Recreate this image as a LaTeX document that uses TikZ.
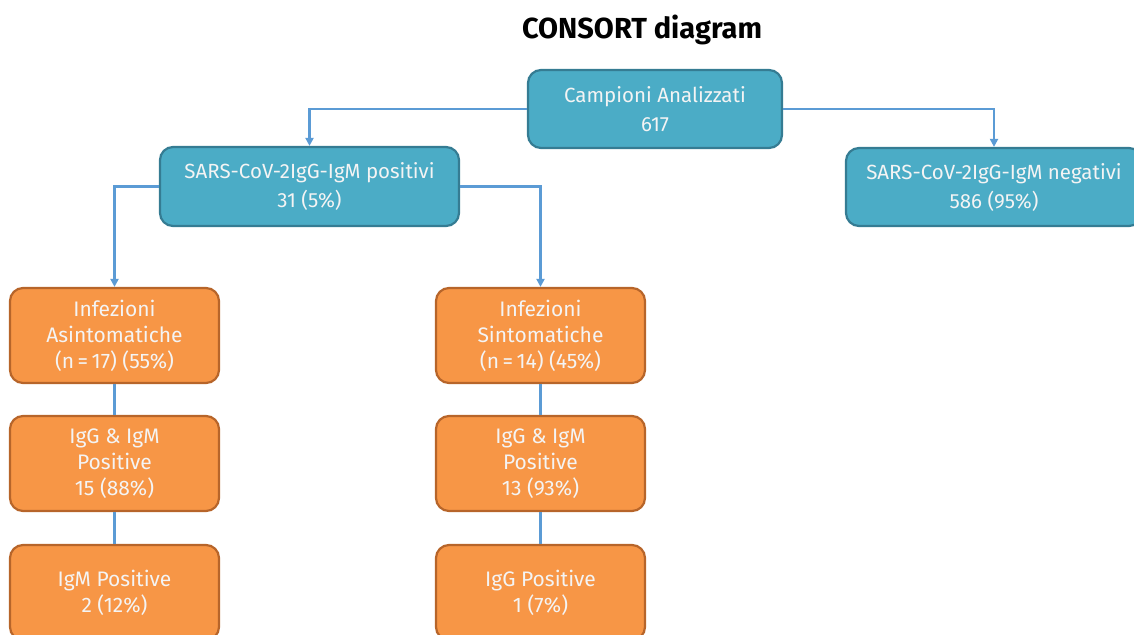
\documentclass[tikz,border=0pt]{standalone}
\usepackage{fontspec}
\setmainfont{Fira Sans}
\usetikzlibrary{arrows.meta}
\definecolor{aqua}{HTML}{4BACC6}
\definecolor{aquaborder}{HTML}{357C93}
\definecolor{orng}{HTML}{F79646}
\definecolor{orngborder}{HTML}{B7652A}
\definecolor{conn}{HTML}{5B9BD5}
\definecolor{txt}{HTML}{F4F4F4}
\tikzset{
  bluebox/.style={draw=aquaborder, fill=aqua, line width=2.2pt, rounded corners=13pt,
    align=center, text=txt, font=\fontsize{20.5}{29}\selectfont, inner sep=0pt},
  orangebox/.style={draw=orngborder, fill=orng, line width=2.2pt, rounded corners=13pt,
    align=center, text=txt, font=\fontsize{21}{26}\selectfont, inner sep=0pt,
    minimum width=209pt, minimum height=95pt},
  arr/.style={draw=conn, line width=2.2pt, -{Triangle[length=8pt,width=8pt]}},
  plain/.style={draw=conn, line width=2.2pt}
}
\begin{document}
\begin{tikzpicture}[x=1pt,y=-1pt]
\useasboundingbox (0,0) rectangle (1134,634);
\node[font=\fontsize{29}{32}\selectfont\bfseries] (title) at (642,30) {CONSORT diagram};
\node[bluebox, minimum width=254pt, minimum height=78pt] (top) at (655,109) {Campioni Analizzati\\617};
\node[bluebox, minimum width=299pt, minimum height=79pt] (pos) at (309.5,186.5) {SARS-CoV-2IgG-IgM positivi\\31 (5\%)};
\node[bluebox, minimum width=296pt, minimum height=78pt] (neg) at (994,187) {SARS-CoV-2IgG-IgM negativi\\586 (95\%)};
\node[orangebox] (asy) at (114.5,335.5) {Infezioni\\Asintomatiche\\(n\,=\,17) (55\%)};
\node[orangebox] (asy2) at (114.5,463.5) {IgG \& IgM\\Positive\\15 (88\%)};
\node[orangebox] (asy3) at (114.5,592.5) {IgM Positive\\2 (12\%)};
\node[orangebox] (sym) at (540.5,335.5) {Infezioni\\Sintomatiche\\(n\,=\,14) (45\%)};
\node[orangebox] (sym2) at (540.5,463.5) {IgG \& IgM\\Positive\\13 (93\%)};
\node[orangebox] (sym3) at (540.5,592.5) {IgG Positive\\1 (7\%)};
\draw[arr] (top.west) -| (pos.north);
\draw[arr] (top.east) -| (neg.north);
\draw[arr] (pos.west) -| (asy.north);
\draw[arr] (pos.east) -| (sym.north);
\draw[plain] (asy) -- (asy2);
\draw[plain] (asy2) -- (asy3);
\draw[plain] (sym) -- (sym2);
\draw[plain] (sym2) -- (sym3);
\end{tikzpicture}
\end{document}
